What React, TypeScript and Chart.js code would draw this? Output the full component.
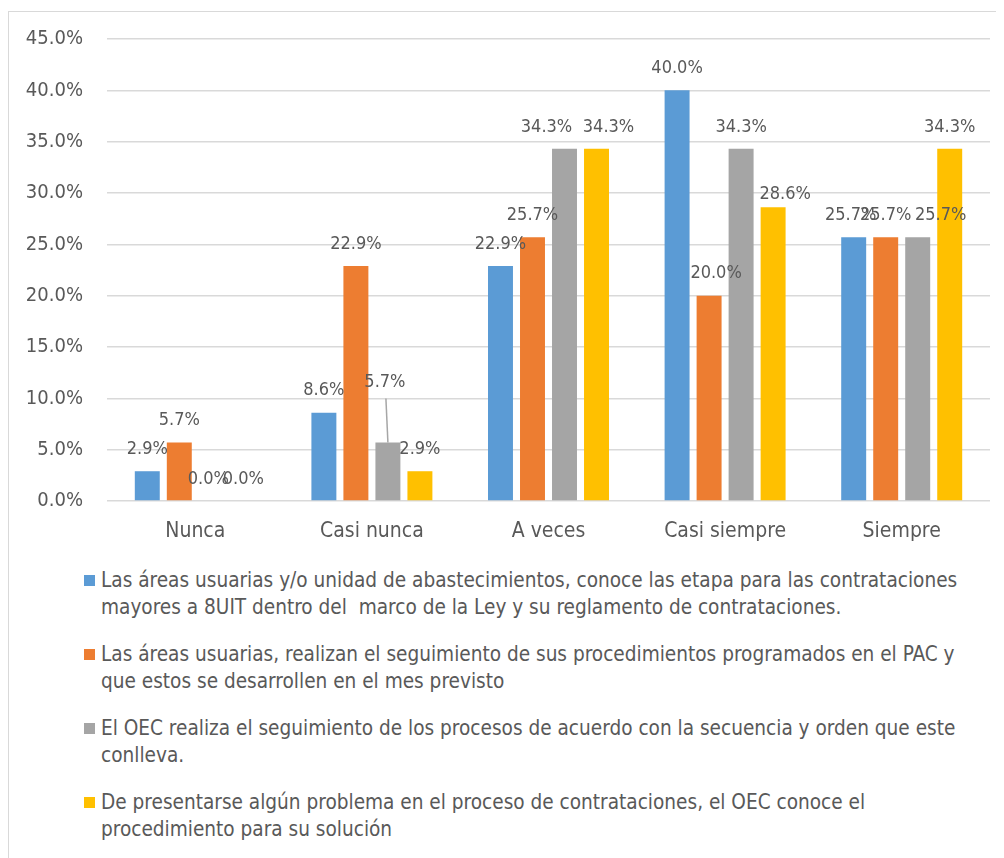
import React, { useEffect, useRef } from "react";
import { Chart, registerables } from "chart.js";

Chart.register(...registerables);

const categories = ["Nunca", "Casi nunca", "A veces", "Casi siempre", "Siempre"];
const seriesAreasEtapas = [2.9, 8.6, 22.9, 40.0, 25.7];
const seriesSeguimientoPAC = [5.7, 22.9, 25.7, 20.0, 25.7];
const seriesOECSecuencia = [0.0, 5.7, 34.3, 34.3, 25.7];
const seriesOECProblema = [0.0, 2.9, 34.3, 28.6, 34.3];
const yTicks = [0, 5, 10, 15, 20, 25, 30, 35, 40, 45];

const legendLines: string[][] = [
  [
    "Las áreas usuarias y/o unidad de abastecimientos, conoce las etapa para las contrataciones",
    "mayores a 8UIT dentro del  marco de la Ley y su reglamento de contrataciones.",
  ],
  [
    "Las áreas usuarias, realizan el seguimiento de sus procedimientos programados en el PAC y",
    "que estos se desarrollen en el mes previsto",
  ],
  [
    "El OEC realiza el seguimiento de los procesos de acuerdo con la secuencia y orden que este",
    "conlleva.",
  ],
  [
    "De presentarse algún problema en el proceso de contrataciones, el OEC conoce el",
    "procedimiento para su solución",
  ],
];

const colors = ["#5B9BD5", "#ED7D31", "#A5A5A5", "#FFC000"];
const FONT = "'Liberation Sans Narrow', 'Arial Narrow', 'DejaVu Sans Condensed', sans-serif";
const TEXT = "#595959";

// label placement tweaks (dataset-index) : [dx, dy, leaderLine]
const labelAdjust: Record<string, [number, number, boolean]> = {
  "2-0": [-3, 0, false],
  "2-1": [-3, -38, true],
  "2-2": [-18, 0, false],
  "3-2": [12, 0, false],
  "1-3": [7, 0, false],
  "3-3": [12, 9, false],
  "0-4": [-3, 0, false],
  "2-4": [23, 0, false],
};

const dataLabelPlugin = {
  id: "dataLabels",
  afterDatasetsDraw(chart: any) {
    const ctx = chart.ctx;
    ctx.save();
    ctx.font = `18px ${FONT}`;
    ctx.fillStyle = TEXT;
    ctx.textAlign = "center";
    ctx.textBaseline = "middle";
    chart.data.datasets.forEach((ds: any, i: number) => {
      const meta = chart.getDatasetMeta(i);
      meta.data.forEach((el: any, j: number) => {
        const v = ds.data[j] as number;
        const adj = labelAdjust[`${i}-${j}`] || [0, 0, false];
        const lx = el.x + adj[0];
        const ly = el.y - 22 + adj[1];
        if (adj[2]) {
          ctx.strokeStyle = "#A6A6A6";
          ctx.lineWidth = 1.5;
          ctx.beginPath();
          ctx.moveTo(el.x, el.y);
          ctx.lineTo(lx + 1, ly + 16);
          ctx.stroke();
        }
        ctx.fillText(v.toFixed(1) + "%", lx, ly);
      });
    });
    ctx.restore();
  },
};

export default function App() {
  const ref = useRef<HTMLCanvasElement | null>(null);
  useEffect(() => {
    document.documentElement.style.overflow = "hidden";
    document.body.style.overflow = "hidden";
    if (!ref.current) return;
    const seriesLabels = legendLines.map((l) => l.join(" "));
    const chart = new Chart(ref.current, {
      type: "bar",
      data: {
        labels: categories,
        datasets: [
          seriesAreasEtapas,
          seriesSeguimientoPAC,
          seriesOECSecuencia,
          seriesOECProblema,
        ].map((d, i) => ({
          label: seriesLabels[i],
          data: d,
          backgroundColor: colors[i],
          borderWidth: 0,
          categoryPercentage: 0.725,
          barPercentage: 0.78,
        })),
      },
      options: {
        responsive: false,
        animation: false,
        layout: { padding: { top: 27, right: 9, bottom: 0, left: 0 } },
        plugins: {
          legend: { display: false },
          tooltip: { enabled: false },
        },
        scales: {
          x: {
            grid: { display: false, drawTicks: false },
            border: { display: false },
            ticks: {
              color: TEXT,
              font: { family: FONT, size: 21 },
              padding: 18,
            },
            afterFit(scale: any) {
              scale.height = 56;
            },
          },
          y: {
            min: 0,
            max: 45,
            afterBuildTicks(scale: any) {
              scale.ticks = yTicks.map((v) => ({ value: v }));
            },
            grid: { color: "#D9D9D9", lineWidth: 1.5, drawTicks: false },
            border: { display: false },
            ticks: {
              color: TEXT,
              font: { family: FONT, size: 20 },
              padding: 24,
              callback: (v: any) => Number(v).toFixed(1) + "%",
            },
            afterFit(scale: any) {
              scale.width = 98;
              scale.paddingTop = 0;
              scale.paddingBottom = 0;
            },
          },
        },
      },
      plugins: [dataLabelPlugin],
    });
    return () => chart.destroy();
  }, []);

  return (
    <div
      style={{
        marginTop: 3,
        width: 1000,
        height: 850,
        borderTop: "1px solid #D9D9D9",
        borderLeft: "1px solid #D9D9D9",
        boxSizing: "border-box",
        background: "#fff",
      }}
    >
      <canvas ref={ref} width={990} height={545} style={{ display: "block" }} />
      <div style={{ paddingLeft: 75, marginTop: 10, fontFamily: FONT, fontSize: 20.6, color: TEXT }}>
        {legendLines.map((lines, i) => (
          <div key={i} style={{ display: "flex", alignItems: "flex-start", marginBottom: 20 }}>
            <span
              style={{
                display: "inline-block",
                width: 11,
                height: 11,
                background: colors[i],
                marginTop: 8,
                marginRight: 6,
                flex: "none",
              }}
            />
            <div style={{ lineHeight: "27px", whiteSpace: "pre" }}>
              {lines.map((t, k) => (
                <div key={k}>{t}</div>
              ))}
            </div>
          </div>
        ))}
      </div>
    </div>
  );
}
